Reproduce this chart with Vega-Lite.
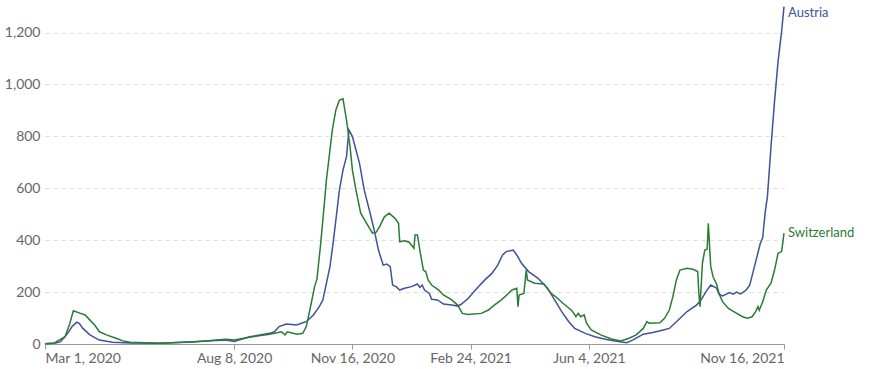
{
  "$schema": "https://vega.github.io/schema/vega-lite/v6.json",
  "width": 739,
  "height": 340,
  "autosize": {"type": "none"},
  "padding": {"left": 45, "top": 4, "right": 89, "bottom": 25},
  "background": "white",
  "config": {
    "view": {"stroke": null},
    "font": "Lato",
    "axis": {"labelFont": "Lato", "labelColor": "#666666", "labelFontSize": 14}
  },
  "datasets": {
    "cases": [
      {"country": "Austria", "date": "2020-03-01", "value": 1},
      {"country": "Austria", "date": "2020-03-09", "value": 3},
      {"country": "Austria", "date": "2020-03-14", "value": 8},
      {"country": "Austria", "date": "2020-03-20", "value": 40},
      {"country": "Austria", "date": "2020-03-24", "value": 68},
      {"country": "Austria", "date": "2020-03-28", "value": 84},
      {"country": "Austria", "date": "2020-03-30", "value": 80},
      {"country": "Austria", "date": "2020-04-02", "value": 60},
      {"country": "Austria", "date": "2020-04-08", "value": 35},
      {"country": "Austria", "date": "2020-04-16", "value": 15},
      {"country": "Austria", "date": "2020-04-27", "value": 6.5},
      {"country": "Austria", "date": "2020-05-12", "value": 4},
      {"country": "Austria", "date": "2020-06-06", "value": 3},
      {"country": "Austria", "date": "2020-07-04", "value": 9},
      {"country": "Austria", "date": "2020-08-01", "value": 15},
      {"country": "Austria", "date": "2020-08-08", "value": 10},
      {"country": "Austria", "date": "2020-08-21", "value": 28},
      {"country": "Austria", "date": "2020-09-07", "value": 41},
      {"country": "Austria", "date": "2020-09-11", "value": 47},
      {"country": "Austria", "date": "2020-09-15", "value": 67},
      {"country": "Austria", "date": "2020-09-21", "value": 77},
      {"country": "Austria", "date": "2020-09-30", "value": 73},
      {"country": "Austria", "date": "2020-10-05", "value": 82},
      {"country": "Austria", "date": "2020-10-08", "value": 86},
      {"country": "Austria", "date": "2020-10-14", "value": 112},
      {"country": "Austria", "date": "2020-10-19", "value": 144},
      {"country": "Austria", "date": "2020-10-22", "value": 170},
      {"country": "Austria", "date": "2020-10-28", "value": 298},
      {"country": "Austria", "date": "2020-10-31", "value": 401},
      {"country": "Austria", "date": "2020-11-05", "value": 593},
      {"country": "Austria", "date": "2020-11-08", "value": 670},
      {"country": "Austria", "date": "2020-11-11", "value": 722},
      {"country": "Austria", "date": "2020-11-13", "value": 825},
      {"country": "Austria", "date": "2020-11-16", "value": 799},
      {"country": "Austria", "date": "2020-11-22", "value": 696},
      {"country": "Austria", "date": "2020-11-26", "value": 593},
      {"country": "Austria", "date": "2020-12-01", "value": 504},
      {"country": "Austria", "date": "2020-12-05", "value": 427},
      {"country": "Austria", "date": "2020-12-08", "value": 362},
      {"country": "Austria", "date": "2020-12-12", "value": 304},
      {"country": "Austria", "date": "2020-12-15", "value": 308},
      {"country": "Austria", "date": "2020-12-18", "value": 298},
      {"country": "Austria", "date": "2020-12-20", "value": 227},
      {"country": "Austria", "date": "2020-12-23", "value": 221},
      {"country": "Austria", "date": "2020-12-26", "value": 208},
      {"country": "Austria", "date": "2020-12-30", "value": 215},
      {"country": "Austria", "date": "2021-01-05", "value": 221},
      {"country": "Austria", "date": "2021-01-10", "value": 231},
      {"country": "Austria", "date": "2021-01-12", "value": 218},
      {"country": "Austria", "date": "2021-01-14", "value": 227},
      {"country": "Austria", "date": "2021-01-16", "value": 208},
      {"country": "Austria", "date": "2021-01-20", "value": 195},
      {"country": "Austria", "date": "2021-01-22", "value": 172},
      {"country": "Austria", "date": "2021-01-27", "value": 170},
      {"country": "Austria", "date": "2021-02-01", "value": 154},
      {"country": "Austria", "date": "2021-02-08", "value": 150},
      {"country": "Austria", "date": "2021-02-13", "value": 146},
      {"country": "Austria", "date": "2021-02-16", "value": 153},
      {"country": "Austria", "date": "2021-02-22", "value": 176},
      {"country": "Austria", "date": "2021-02-28", "value": 208},
      {"country": "Austria", "date": "2021-03-08", "value": 247},
      {"country": "Austria", "date": "2021-03-14", "value": 272},
      {"country": "Austria", "date": "2021-03-19", "value": 305},
      {"country": "Austria", "date": "2021-03-23", "value": 343},
      {"country": "Austria", "date": "2021-03-26", "value": 356},
      {"country": "Austria", "date": "2021-04-01", "value": 362},
      {"country": "Austria", "date": "2021-04-04", "value": 343},
      {"country": "Austria", "date": "2021-04-08", "value": 311},
      {"country": "Austria", "date": "2021-04-14", "value": 279},
      {"country": "Austria", "date": "2021-04-22", "value": 253},
      {"country": "Austria", "date": "2021-04-30", "value": 215},
      {"country": "Austria", "date": "2021-05-06", "value": 170},
      {"country": "Austria", "date": "2021-05-12", "value": 125},
      {"country": "Austria", "date": "2021-05-18", "value": 86},
      {"country": "Austria", "date": "2021-05-23", "value": 60},
      {"country": "Austria", "date": "2021-06-01", "value": 41},
      {"country": "Austria", "date": "2021-06-09", "value": 28},
      {"country": "Austria", "date": "2021-06-18", "value": 18},
      {"country": "Austria", "date": "2021-06-26", "value": 12},
      {"country": "Austria", "date": "2021-07-06", "value": 5},
      {"country": "Austria", "date": "2021-07-11", "value": 15},
      {"country": "Austria", "date": "2021-07-20", "value": 38},
      {"country": "Austria", "date": "2021-07-28", "value": 44},
      {"country": "Austria", "date": "2021-08-06", "value": 54},
      {"country": "Austria", "date": "2021-08-11", "value": 60},
      {"country": "Austria", "date": "2021-08-17", "value": 86},
      {"country": "Austria", "date": "2021-08-26", "value": 125},
      {"country": "Austria", "date": "2021-09-03", "value": 150},
      {"country": "Austria", "date": "2021-09-07", "value": 170},
      {"country": "Austria", "date": "2021-09-11", "value": 202},
      {"country": "Austria", "date": "2021-09-15", "value": 227},
      {"country": "Austria", "date": "2021-09-20", "value": 215},
      {"country": "Austria", "date": "2021-09-22", "value": 192},
      {"country": "Austria", "date": "2021-09-25", "value": 185},
      {"country": "Austria", "date": "2021-10-01", "value": 198},
      {"country": "Austria", "date": "2021-10-04", "value": 192},
      {"country": "Austria", "date": "2021-10-07", "value": 200},
      {"country": "Austria", "date": "2021-10-10", "value": 193},
      {"country": "Austria", "date": "2021-10-12", "value": 198},
      {"country": "Austria", "date": "2021-10-15", "value": 208},
      {"country": "Austria", "date": "2021-10-18", "value": 227},
      {"country": "Austria", "date": "2021-10-22", "value": 298},
      {"country": "Austria", "date": "2021-10-27", "value": 388},
      {"country": "Austria", "date": "2021-10-29", "value": 410},
      {"country": "Austria", "date": "2021-10-31", "value": 504},
      {"country": "Austria", "date": "2021-11-02", "value": 570},
      {"country": "Austria", "date": "2021-11-05", "value": 760},
      {"country": "Austria", "date": "2021-11-08", "value": 935},
      {"country": "Austria", "date": "2021-11-11", "value": 1090},
      {"country": "Austria", "date": "2021-11-14", "value": 1205},
      {"country": "Austria", "date": "2021-11-16", "value": 1300},
      {"country": "Switzerland", "date": "2020-03-01", "value": 1},
      {"country": "Switzerland", "date": "2020-03-09", "value": 4},
      {"country": "Switzerland", "date": "2020-03-18", "value": 28},
      {"country": "Switzerland", "date": "2020-03-22", "value": 80},
      {"country": "Switzerland", "date": "2020-03-25", "value": 128},
      {"country": "Switzerland", "date": "2020-03-31", "value": 118},
      {"country": "Switzerland", "date": "2020-04-04", "value": 112},
      {"country": "Switzerland", "date": "2020-04-08", "value": 92},
      {"country": "Switzerland", "date": "2020-04-12", "value": 73},
      {"country": "Switzerland", "date": "2020-04-16", "value": 47},
      {"country": "Switzerland", "date": "2020-04-22", "value": 35},
      {"country": "Switzerland", "date": "2020-04-30", "value": 22},
      {"country": "Switzerland", "date": "2020-05-06", "value": 12},
      {"country": "Switzerland", "date": "2020-05-12", "value": 6.5},
      {"country": "Switzerland", "date": "2020-06-06", "value": 3},
      {"country": "Switzerland", "date": "2020-07-04", "value": 8},
      {"country": "Switzerland", "date": "2020-08-01", "value": 18},
      {"country": "Switzerland", "date": "2020-08-08", "value": 15},
      {"country": "Switzerland", "date": "2020-08-21", "value": 26},
      {"country": "Switzerland", "date": "2020-09-07", "value": 38},
      {"country": "Switzerland", "date": "2020-09-17", "value": 47},
      {"country": "Switzerland", "date": "2020-09-20", "value": 35},
      {"country": "Switzerland", "date": "2020-09-22", "value": 47},
      {"country": "Switzerland", "date": "2020-09-30", "value": 38},
      {"country": "Switzerland", "date": "2020-10-05", "value": 41},
      {"country": "Switzerland", "date": "2020-10-08", "value": 67},
      {"country": "Switzerland", "date": "2020-10-11", "value": 131},
      {"country": "Switzerland", "date": "2020-10-15", "value": 221},
      {"country": "Switzerland", "date": "2020-10-17", "value": 250},
      {"country": "Switzerland", "date": "2020-10-20", "value": 380},
      {"country": "Switzerland", "date": "2020-10-22", "value": 478},
      {"country": "Switzerland", "date": "2020-10-25", "value": 632},
      {"country": "Switzerland", "date": "2020-10-30", "value": 825},
      {"country": "Switzerland", "date": "2020-11-02", "value": 902},
      {"country": "Switzerland", "date": "2020-11-05", "value": 940},
      {"country": "Switzerland", "date": "2020-11-08", "value": 945},
      {"country": "Switzerland", "date": "2020-11-11", "value": 863},
      {"country": "Switzerland", "date": "2020-11-14", "value": 760},
      {"country": "Switzerland", "date": "2020-11-16", "value": 670},
      {"country": "Switzerland", "date": "2020-11-19", "value": 593},
      {"country": "Switzerland", "date": "2020-11-23", "value": 504},
      {"country": "Switzerland", "date": "2020-11-28", "value": 465},
      {"country": "Switzerland", "date": "2020-12-03", "value": 427},
      {"country": "Switzerland", "date": "2020-12-06", "value": 430},
      {"country": "Switzerland", "date": "2020-12-09", "value": 452},
      {"country": "Switzerland", "date": "2020-12-13", "value": 490},
      {"country": "Switzerland", "date": "2020-12-17", "value": 504},
      {"country": "Switzerland", "date": "2020-12-22", "value": 484},
      {"country": "Switzerland", "date": "2020-12-25", "value": 465},
      {"country": "Switzerland", "date": "2020-12-26", "value": 394},
      {"country": "Switzerland", "date": "2020-12-30", "value": 398},
      {"country": "Switzerland", "date": "2021-01-03", "value": 392},
      {"country": "Switzerland", "date": "2021-01-07", "value": 369},
      {"country": "Switzerland", "date": "2021-01-08", "value": 420},
      {"country": "Switzerland", "date": "2021-01-10", "value": 420},
      {"country": "Switzerland", "date": "2021-01-12", "value": 362},
      {"country": "Switzerland", "date": "2021-01-15", "value": 285},
      {"country": "Switzerland", "date": "2021-01-17", "value": 279},
      {"country": "Switzerland", "date": "2021-01-19", "value": 247},
      {"country": "Switzerland", "date": "2021-01-22", "value": 227},
      {"country": "Switzerland", "date": "2021-01-28", "value": 208},
      {"country": "Switzerland", "date": "2021-02-01", "value": 189},
      {"country": "Switzerland", "date": "2021-02-08", "value": 170},
      {"country": "Switzerland", "date": "2021-02-13", "value": 150},
      {"country": "Switzerland", "date": "2021-02-17", "value": 118},
      {"country": "Switzerland", "date": "2021-02-22", "value": 114},
      {"country": "Switzerland", "date": "2021-03-05", "value": 118},
      {"country": "Switzerland", "date": "2021-03-11", "value": 131},
      {"country": "Switzerland", "date": "2021-03-16", "value": 150},
      {"country": "Switzerland", "date": "2021-03-22", "value": 170},
      {"country": "Switzerland", "date": "2021-03-31", "value": 208},
      {"country": "Switzerland", "date": "2021-04-04", "value": 215},
      {"country": "Switzerland", "date": "2021-04-05", "value": 144},
      {"country": "Switzerland", "date": "2021-04-06", "value": 189},
      {"country": "Switzerland", "date": "2021-04-10", "value": 195},
      {"country": "Switzerland", "date": "2021-04-12", "value": 285},
      {"country": "Switzerland", "date": "2021-04-13", "value": 247},
      {"country": "Switzerland", "date": "2021-04-19", "value": 234},
      {"country": "Switzerland", "date": "2021-04-27", "value": 231},
      {"country": "Switzerland", "date": "2021-05-03", "value": 195},
      {"country": "Switzerland", "date": "2021-05-07", "value": 182},
      {"country": "Switzerland", "date": "2021-05-13", "value": 157},
      {"country": "Switzerland", "date": "2021-05-20", "value": 131},
      {"country": "Switzerland", "date": "2021-05-22", "value": 120},
      {"country": "Switzerland", "date": "2021-05-24", "value": 105},
      {"country": "Switzerland", "date": "2021-05-26", "value": 118},
      {"country": "Switzerland", "date": "2021-05-28", "value": 105},
      {"country": "Switzerland", "date": "2021-05-31", "value": 112},
      {"country": "Switzerland", "date": "2021-06-02", "value": 80},
      {"country": "Switzerland", "date": "2021-06-06", "value": 54},
      {"country": "Switzerland", "date": "2021-06-14", "value": 35},
      {"country": "Switzerland", "date": "2021-06-23", "value": 19},
      {"country": "Switzerland", "date": "2021-07-01", "value": 12},
      {"country": "Switzerland", "date": "2021-07-08", "value": 22},
      {"country": "Switzerland", "date": "2021-07-14", "value": 35},
      {"country": "Switzerland", "date": "2021-07-20", "value": 60},
      {"country": "Switzerland", "date": "2021-07-23", "value": 86},
      {"country": "Switzerland", "date": "2021-07-25", "value": 80},
      {"country": "Switzerland", "date": "2021-08-03", "value": 82},
      {"country": "Switzerland", "date": "2021-08-07", "value": 99},
      {"country": "Switzerland", "date": "2021-08-11", "value": 131},
      {"country": "Switzerland", "date": "2021-08-14", "value": 182},
      {"country": "Switzerland", "date": "2021-08-17", "value": 247},
      {"country": "Switzerland", "date": "2021-08-20", "value": 285},
      {"country": "Switzerland", "date": "2021-08-26", "value": 292},
      {"country": "Switzerland", "date": "2021-08-31", "value": 288},
      {"country": "Switzerland", "date": "2021-09-04", "value": 279},
      {"country": "Switzerland", "date": "2021-09-05", "value": 195},
      {"country": "Switzerland", "date": "2021-09-06", "value": 144},
      {"country": "Switzerland", "date": "2021-09-08", "value": 311},
      {"country": "Switzerland", "date": "2021-09-10", "value": 362},
      {"country": "Switzerland", "date": "2021-09-12", "value": 365},
      {"country": "Switzerland", "date": "2021-09-13", "value": 465},
      {"country": "Switzerland", "date": "2021-09-15", "value": 300},
      {"country": "Switzerland", "date": "2021-09-17", "value": 259},
      {"country": "Switzerland", "date": "2021-09-20", "value": 230},
      {"country": "Switzerland", "date": "2021-09-22", "value": 195},
      {"country": "Switzerland", "date": "2021-09-25", "value": 163},
      {"country": "Switzerland", "date": "2021-09-30", "value": 137},
      {"country": "Switzerland", "date": "2021-10-07", "value": 118},
      {"country": "Switzerland", "date": "2021-10-12", "value": 105},
      {"country": "Switzerland", "date": "2021-10-16", "value": 99},
      {"country": "Switzerland", "date": "2021-10-20", "value": 105},
      {"country": "Switzerland", "date": "2021-10-23", "value": 125},
      {"country": "Switzerland", "date": "2021-10-25", "value": 144},
      {"country": "Switzerland", "date": "2021-10-26", "value": 130},
      {"country": "Switzerland", "date": "2021-10-29", "value": 163},
      {"country": "Switzerland", "date": "2021-11-01", "value": 208},
      {"country": "Switzerland", "date": "2021-11-05", "value": 234},
      {"country": "Switzerland", "date": "2021-11-08", "value": 285},
      {"country": "Switzerland", "date": "2021-11-11", "value": 350},
      {"country": "Switzerland", "date": "2021-11-14", "value": 356},
      {"country": "Switzerland", "date": "2021-11-16", "value": 427}
    ]
  },
  "data": {"name": "cases"},
  "encoding": {
    "x": {
      "field": "date",
      "type": "temporal",
      "scale": {"type": "utc", "domain": [{"year": 2020, "month": 3, "date": 1, "utc": true}, {"year": 2021, "month": 11, "date": 16, "utc": true}]},
      "axis": {
        "title": null,
        "labelExpr": "utcFormat(datum.value, '%b %-d, %Y')",
        "values": [
          {"year": 2020, "month": 3, "date": 1, "utc": true},
          {"year": 2020, "month": 8, "date": 8, "utc": true},
          {"year": 2020, "month": 11, "date": 16, "utc": true},
          {"year": 2021, "month": 2, "date": 24, "utc": true},
          {"year": 2021, "month": 6, "date": 4, "utc": true},
          {"year": 2021, "month": 11, "date": 16, "utc": true}
        ],
        "labelFlush": true,
        "labelOverlap": false,
        "grid": false,
        "domainColor": "#999999",
        "tickColor": "#999999",
        "tickSize": 5,
        "labelPadding": 2
      }
    },
    "y": {
      "field": "value",
      "type": "quantitative",
      "scale": {"domain": [0, 1310], "nice": false},
      "axis": {
        "title": null,
        "values": [0, 200, 400, 600, 800, 1000, 1200],
        "format": ",d",
        "domain": false,
        "ticks": false,
        "labelPadding": 5,
        "gridColor": "#dddddd",
        "gridDash": [4, 4],
        "gridWidth": 1
      }
    },
    "color": {
      "field": "country",
      "type": "nominal",
      "scale": {"domain": ["Austria", "Switzerland"], "range": ["#3f529b", "#2b7b34"]},
      "legend": null
    }
  },
  "layer": [
    {"mark": {"type": "line", "strokeWidth": 1.5, "interpolate": "linear"}},
    {
      "transform": [{"filter": "datum.country === 'Austria' && utcyear(datum.date) === 2021 && utcmonth(datum.date) === 10 && utcdate(datum.date) === 16"}],
      "mark": {"type": "text", "align": "left", "baseline": "middle", "dx": 4, "dy": 6, "fontSize": 13, "font": "Lato"},
      "encoding": {"text": {"field": "country"}}
    },
    {
      "transform": [{"filter": "datum.country === 'Switzerland' && utcyear(datum.date) === 2021 && utcmonth(datum.date) === 10 && utcdate(datum.date) === 16"}],
      "mark": {"type": "text", "align": "left", "baseline": "middle", "dx": 4, "dy": 0, "fontSize": 13, "font": "Lato"},
      "encoding": {"text": {"field": "country"}}
    }
  ]
}
